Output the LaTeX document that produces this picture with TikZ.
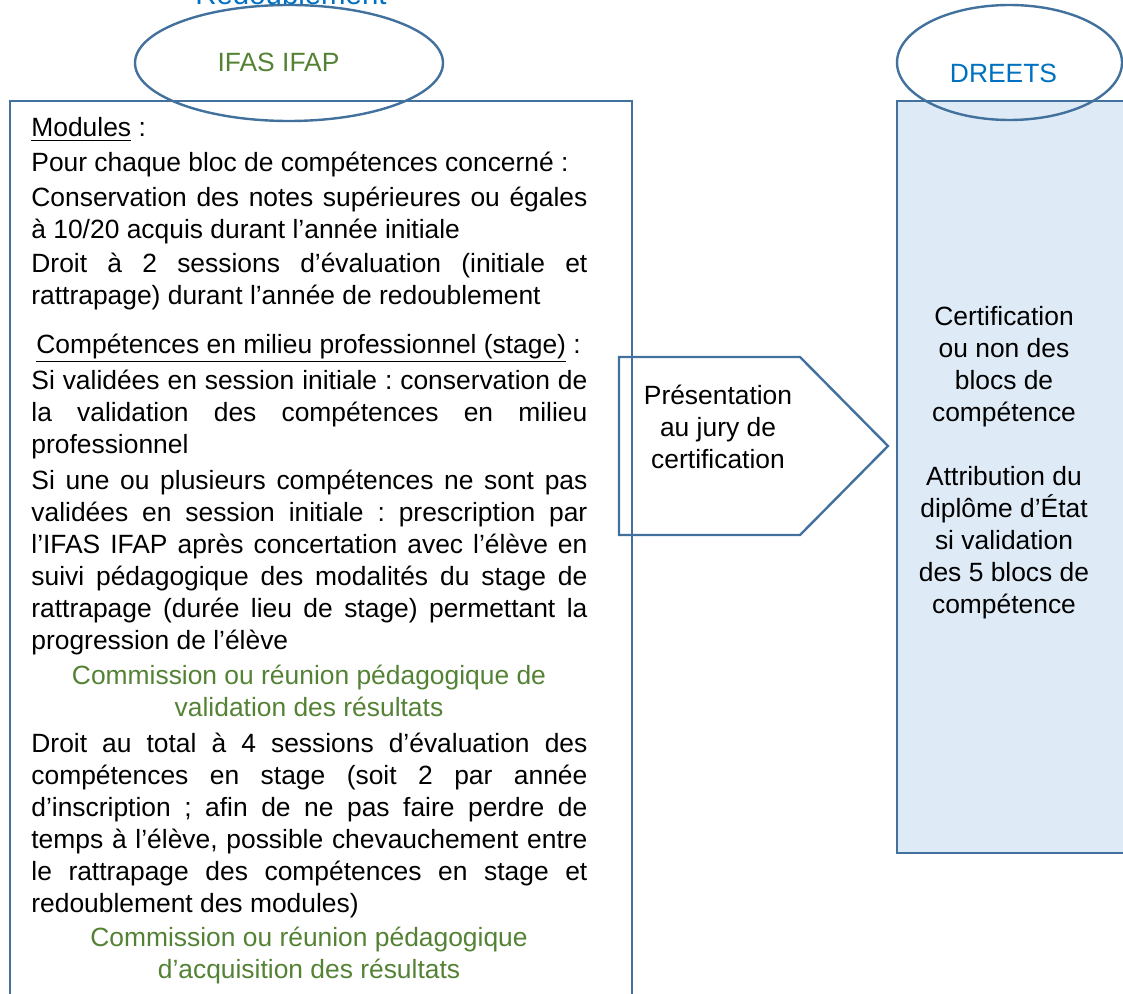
\documentclass[tikz,border=0pt]{standalone}
\usepackage{fontspec}
\setmainfont{Liberation Sans}
\usepackage{xcolor}
\usepackage{tikz}
\usetikzlibrary{positioning}
\frenchspacing

\definecolor{boxblue}{HTML}{41719C}
\definecolor{fillblue}{HTML}{DEEBF7}
\definecolor{textgreen}{HTML}{548235}
\definecolor{textblue}{HTML}{0070C0}

\begin{document}
\begin{tikzpicture}[x=0.5pt,y=-0.5pt,
        frame/.style={draw=boxblue, line width=1.2pt},
        para/.style={anchor=base west, inner sep=0pt, text width=278pt, align=justify,
            font=\fontsize{13.2}{16}\selectfont,
            execute at begin node={\sloppy\frenchspacing\hyphenpenalty=10000}},
        label/.style={anchor=base, inner sep=0pt, align=center, font=\fontsize{13.2}{16}\selectfont},
        green/.style={label, text=textgreen}]
        \useasboundingbox (0,0) rectangle (1123,994);
        \clip (0,0) rectangle (1123,994);

        % boxes
        \draw[frame] (10,101) rectangle (632,1020);
        \draw[frame, fill=fillblue] (897,101) rectangle (1140,853);
        \draw[frame] (619,357) -- (800,357) -- (888,446) -- (800,535) -- (619,535) -- cycle;

        % ellipses
        \draw[frame] (289,63) ellipse [x radius=154, y radius=58];
        \draw[frame] (1009.5,62.5) ellipse [x radius=112.5, y radius=57.5];
        \node[label, text=textblue, font=\fontsize{14.7}{16}\selectfont] (redoub) at (291,5) {Redoublement};
        \node[green] (ifas) at (278.5,72) {IFAS IFAP};
        \node[label, text=textblue] (dreets) at (1003.5,83) {DREETS};

        % IFAS IFAP
        \node[para] (modules) at (31,137) {\underline{Modules} :};
        \node[para] (bloc) at (31,172) {Pour chaque bloc de compétences concerné :};
        \node[para] (notes) at (31,207) {Conservation des notes supérieures ou égales\linebreak
            à 10/20 acquis durant l’année initiale};
        \node[para] (sessions) at (31,273) {Droit à 2 sessions d’évaluation (initiale et\linebreak
            rattrapage) durant l’année de redoublement};
        \node[para] (stage) at (36,353) {\underline{Compétences en milieu professionnel (stage)} :};
        \node[para] (valid) at (31,389) {Si validées en session initiale : conservation de\linebreak
            la validation des compétences en milieu\linebreak
            professionnel};
        \node[para] (nonvalid) at (31,489) {Si une ou plusieurs compétences ne sont pas\linebreak
            validées en session initiale~: prescription par\linebreak
            l’IFAS IFAP après concertation avec l’élève en\linebreak
            suivi pédagogique des modalités du stage de\linebreak
            rattrapage (durée lieu de stage) permettant la\linebreak
            progression de l’élève};
        \node[green] (comm1) at (309,716) {Commission ou réunion pédagogique de\\
            validation des résultats};
        \node[para] (total) at (31,752) {Droit au total à 4 sessions d’évaluation des\linebreak
            compétences en stage (soit 2 par année\linebreak
            d’inscription~; afin de ne pas faire perdre de\linebreak
            temps à l’élève, possible chevauchement entre\linebreak
            le rattrapage des compétences en stage et\linebreak
            redoublement des modules)};
        \node[green] (comm2) at (309,978) {Commission ou réunion pédagogique\\
            d’acquisition des résultats};

        % jury
        \node[label] (jury) at (718,468) {Présentation\\ au jury de\\ certification};

        % DREETS
        \node[label] (certif) at (1004,613) {Certification\\ ou non des\\ blocs de\\ compétence\\[16pt]
            Attribution du\\ diplôme d’État\\ si validation\\ des 5 blocs de\\ compétence};
\end{tikzpicture}
\end{document}
